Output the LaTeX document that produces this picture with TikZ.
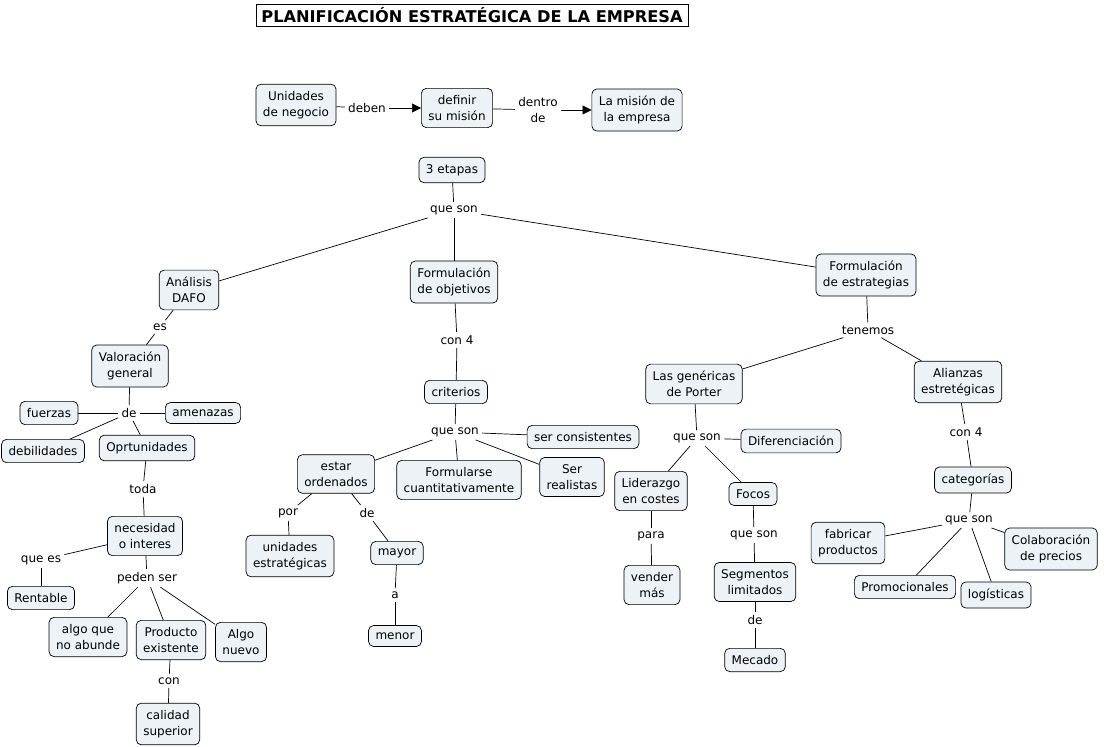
\documentclass[tikz,border=0pt]{standalone}
\usepackage{fontspec}
\setmainfont{DejaVu Sans}
\usetikzlibrary{arrows.meta}
\definecolor{conceptfill}{RGB}{236,242,246}
\tikzset{
concept/.style={
	  draw, rounded corners=5pt, fill=conceptfill, align=center,
	    inner xsep=7pt, inner ysep=7pt, font=\fontsize{12}{16}\selectfont},
linkword/.style={align=center, inner sep=3pt, font=\fontsize{12}{16}\selectfont},
titlebox/.style={draw, fill=white, inner xsep=5.5pt, inner ysep=3.5pt,
	  font=\fontsize{16.2}{18}\selectfont\bfseries},
arrowlink/.style={-{Triangle[length=9pt,width=9pt]}}
}

\begin{document}
\begin{tikzpicture}[x=1pt, y=-1pt, line width=0.7pt]
	\useasboundingbox (0,0) rectangle (1104,747);
	\node[titlebox] (titulo) at (472,15) {PLANIFICACIÓN ESTRATÉGICA DE LA EMPRESA};
	\node[concept] (unidades) at (296,105) {Unidades\\de negocio};
	\node[linkword] (deben) at (367,108) {deben};
	\node[concept] (definir) at (457,108) {definir\\su misión};
	\node[linkword] (dentro) at (538,110) {dentro\\de};
	\node[concept] (mision) at (637,110) {La misión de\\la empresa};
	\draw (unidades) -- (deben);
	\draw[arrowlink] (deben) -- (definir);
	\draw (definir) -- (dentro);
	\draw[arrowlink] (dentro) -- (mision);

	\node[concept] (etapas) at (452,170) {3 etapas};
	\node[linkword] (queson1) at (454,210) {que son};
	\node[concept] (dafo) at (189,290) {Análisis\\DAFO};
	\node[concept] (objetivos) at (454,282) {Formulación\\de objetivos};
	\node[concept] (estrategias) at (866,275) {Formulación\\de estrategias};

	\node[linkword] (es) at (160,327) {es};
	\node[concept] (valoracion) at (130,366) {Valoración\\general};
	\node[linkword] (de1) at (129,413) {de};
	\node[concept] (fuerzas) at (49,413) {fuerzas};
	\node[concept] (amenazas) at (203,413) {amenazas};
	\node[concept] (debilidades) at (43,451) {debilidades};
	\node[concept] (oportunidades) at (147,448) {Oprtunidades};
	\node[linkword] (toda) at (143,489) {toda};
	\node[concept] (necesidad) at (145,536) {necesidad\\o interes};
	\node[linkword] (quees) at (41,560) {que es};
	\node[concept] (rentable) at (41,598) {Rentable};
	\node[linkword] (pedenser) at (147,578) {peden ser};
	\node[concept] (abunde) at (88,637) {algo que\\no abunde};
	\node[concept] (existente) at (171,640) {Producto\\existente};
	\node[concept] (nuevo) at (241,642) {Algo\\nuevo};
	\node[linkword] (con1) at (169,681) {con};
	\node[concept] (calidad) at (168,724) {calidad\\superior};

	\node[linkword] (con4a) at (457,340) {con 4};
	\node[concept] (criterios) at (456,392) {criterios};
	\node[linkword] (queson2) at (455,432) {que son};
	\node[concept] (consistentes) at (583,437) {ser consistentes};
	\node[concept] (ordenados) at (336,474) {estar\\ordenados};
	\node[concept] (cuantitativamente) at (459,480) {Formularse\\cuantitativamente};
	\node[concept] (realistas) at (572,477) {Ser\\realistas};
	\node[linkword] (por) at (288,513) {por};
	\node[linkword] (de2) at (367,513) {de};
	\node[concept] (unidadesest) at (290,556) {unidades\\estratégicas};
	\node[concept] (mayor) at (397,553) {mayor};
	\node[linkword] (a) at (395,595) {a};
	\node[concept] (menor) at (395,636) {menor};

	\node[linkword] (tenemos) at (868,330) {tenemos};
	\node[concept] (porter) at (694,384) {Las genéricas\\de Porter};
	\node[concept] (alianzas) at (958,382) {Alianzas\\estretégicas};
	\node[linkword] (queson3) at (697,438) {que son};
	\node[concept] (diferenciacion) at (791,441) {Diferenciación};
	\node[concept] (liderazgo) at (651,491) {Liderazgo\\en costes};
	\node[concept] (focos) at (753,494) {Focos};
	\node[linkword] (para) at (651,536) {para};
	\node[concept] (vender) at (652,585) {vender\\más};
	\node[linkword] (queson4) at (754,535) {que son};
	\node[concept] (segmentos) at (755,582) {Segmentos\\limitados};
	\node[linkword] (de3) at (755,620) {de};
	\node[concept] (mercado) at (755,660) {Mecado};
	\node[linkword] (con4b) at (966,432) {con 4};
	\node[concept] (categorias) at (973,480) {categorías};
	\node[linkword] (queson5) at (969,520) {que son};
	\node[concept] (fabricar) at (848,543) {fabricar\\productos};
	\node[concept] (colaboracion) at (1051,549) {Colaboración\\de precios};
	\node[concept] (promocionales) at (905,587) {Promocionales};
	\node[concept] (logisticas) at (996,595) {logísticas};

	\foreach \from/\to in {etapas/queson1, queson1/dafo, queson1/objetivos, queson1/estrategias,
		dafo/es, es/valoracion, valoracion/de1, de1/fuerzas, de1/amenazas, de1/debilidades,
		de1/oportunidades, oportunidades/toda, toda/necesidad, necesidad/quees, quees/rentable,
		necesidad/pedenser, pedenser/abunde, pedenser/existente, pedenser/nuevo,
		existente/con1, con1/calidad,
		objetivos/con4a, con4a/criterios, criterios/queson2, queson2/consistentes,
		queson2/ordenados, queson2/cuantitativamente, queson2/realistas,
		ordenados/por, por/unidadesest, ordenados/de2, de2/mayor, mayor/a, a/menor,
		estrategias/tenemos, tenemos/porter, tenemos/alianzas,
		porter/queson3, queson3/diferenciacion, queson3/liderazgo, queson3/focos,
		liderazgo/para, para/vender, focos/queson4, queson4/segmentos, segmentos/de3, de3/mercado,
		alianzas/con4b, con4b/categorias, categorias/queson5, queson5/fabricar,
		queson5/colaboracion, queson5/promocionales, queson5/logisticas}
		\draw (\from) -- (\to);
\end{tikzpicture}
\end{document}
